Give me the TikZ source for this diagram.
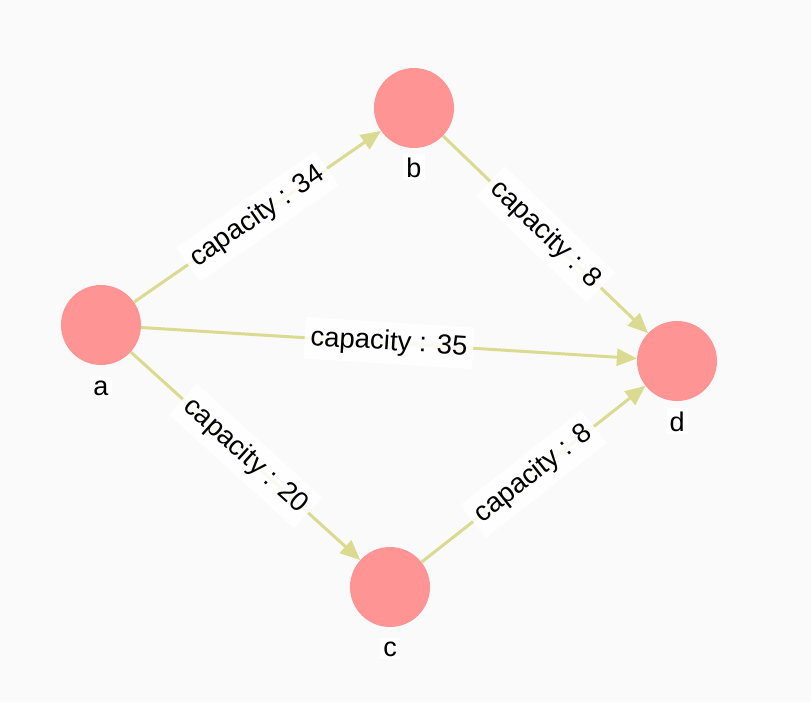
\documentclass[tikz,border=0pt]{standalone}
\usepackage{fontspec}
\setmainfont{Liberation Sans}
\usetikzlibrary{arrows.meta}
\definecolor{bg}{HTML}{FAFAFA}
\definecolor{nodefill}{HTML}{FF9494}
\definecolor{edgecol}{HTML}{DADA91}
\begin{document}
\begin{tikzpicture}[x=1pt,y=-1pt,
  vertex/.style={circle,fill=nodefill,minimum size=80pt,inner sep=0pt},
  vlabel/.style={anchor=base,font=\fontsize{27}{30}\selectfont,fill=white,inner sep=3pt},
  edge/.style={draw=edgecol,line width=3pt,-{Triangle[length=20pt,width=17pt]}},
  elabel/.style={sloped,midway,fill=white,fill opacity=0.85,text opacity=1,
    font=\fontsize{27.5}{30}\selectfont,inner xsep=6pt,inner ysep=8pt}]
\fill[bg] (0,0) rectangle (811,702);
\useasboundingbox (0,0) rectangle (811,702);
\node[vertex] (a) at (101,325) {};
\node[vertex] (b) at (414,108) {};
\node[vertex] (c) at (390,587) {};
\node[vertex] (d) at (677,361) {};
\node[vlabel] (la) at (101,395) {a};
\node[vlabel] (lb) at (414,177) {b};
\node[vlabel] (lc) at (390,656) {c};
\node[vlabel] (ld) at (677,431) {d};
\draw[edge] (a) -- node[elabel] {capacity : 34} (b);
\draw[edge] (b) -- node[elabel] {capacity : 8} (d);
\draw[edge] (a) -- node[elabel] {capacity : 35} (d);
\draw[edge] (a) -- node[elabel] {capacity : 20} (c);
\draw[edge] (c) -- node[elabel] {capacity : 8} (d);
\end{tikzpicture}
\end{document}
